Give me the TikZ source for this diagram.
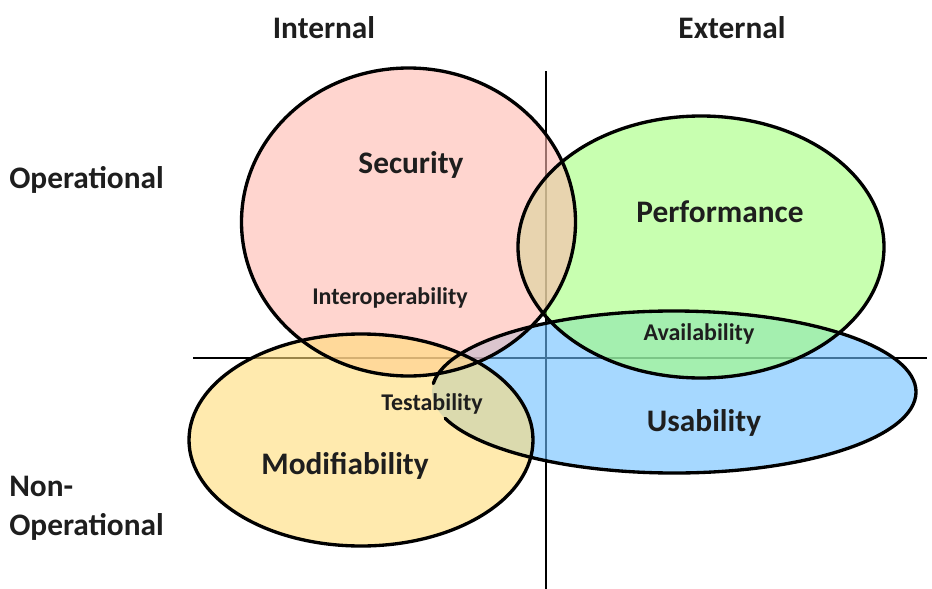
\documentclass[tikz,border=0pt]{standalone}
\usepackage{fontspec}
\setmainfont{Carlito}
\usepackage{tikz}
\definecolor{secpink}{RGB}{255,185,175}
\definecolor{perfgreen}{RGB}{163,255,123}
\definecolor{usablue}{RGB}{107,190,255}
\definecolor{modiyellow}{RGB}{255,220,120}
\definecolor{txtgrey}{RGB}{30,30,30}

\begin{document}
\begin{tikzpicture}[x=0.75pt,y=-0.75pt,
      every node/.style={inner sep=0pt, text=txtgrey},
      big/.style={font=\fontsize{23.5}{29}\selectfont\bfseries},
      small/.style={font=\fontsize{18}{22}\selectfont\bfseries},
      blob/.style={fill opacity=0.6},
      rim/.style={draw=black, line width=2.5pt, line cap=round},
      axis/.style={draw=black, line width=2.2pt}]
      \useasboundingbox (0,0) rectangle (932,589);
      % axes
      \coordinate (h_l) at (193,358);
      \coordinate (h_r) at (927,358);
      \coordinate (v_t) at (546,71);
      \coordinate (v_b) at (546,589);
      \path[axis] (h_l) -- (h_r) (v_t) -- (v_b);
      % centres of the blobs
      \coordinate (sec) at (408.5,222);
      \coordinate (perf) at (701,247);
      \coordinate (usab) at (674,392);
      \coordinate (modi) at (361,440);
      \fill[blob, usablue] (usab) ellipse [x radius=242, y radius=81];
      \fill[blob, perfgreen] (perf) ellipse [x radius=183, y radius=131];
      \fill[blob, secpink] (sec) ellipse [x radius=167, y radius=154];
      \fill[blob, modiyellow] (modi) ellipse [x radius=172, y radius=106];
      \draw[rim] (perf) ellipse [x radius=183, y radius=131];
      \draw[rim] (sec) ellipse [x radius=167, y radius=154];
      \draw[rim] (modi) ellipse [x radius=172, y radius=106];
      \draw[rim] (usab) ++(186:242 and 81)
        arc [start angle=186, end angle=521, x radius=242, y radius=81];
      % labels
      \node[big] (internal) at (324,28) {Internal};
      \node[big] (external) at (732,28) {External};
      \node[big, anchor=west] (oper) at (9,180) {Operational};
      \node[big, anchor=west, align=left] (nonoper) at (9,508) {Non-\\Operational};
      \node[big] (security) at (411,165) {Security};
      \node[small] (interop) at (390,298) {Interoperability};
      \node[big] (performance) at (720,212) {Performance};
      \node[small] (avail) at (699,334) {Availability};
      \node[small] (test) at (432,404) {Testability};
      \node[big] (usability) at (704,423) {Usability};
      \node[big] (modif) at (345,466) {Modifiability};
    \end{tikzpicture}
\end{document}
